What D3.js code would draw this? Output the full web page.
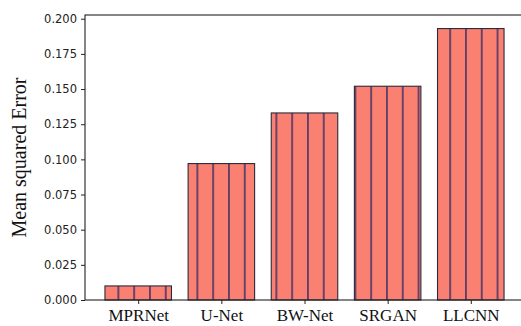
<!DOCTYPE html>
<html>
<head>
<meta charset="utf-8">
<script src="https://cdn.jsdelivr.net/npm/d3@7/dist/d3.min.js"></script>
<style>
  html, body { margin: 0; padding: 0; background: #fff; }
  svg { display: block; }
</style>
</head>
<body>
<svg id="chart" width="521" height="326"></svg>
<script>
// Model names and their mean squared error
const models = ["MPRNet", "U-Net", "BW-Net", "SRGAN", "LLCNN"];
const mseValues = [0.010, 0.097, 0.133, 0.152, 0.193];
const yTicks = [0.000, 0.025, 0.050, 0.075, 0.100, 0.125, 0.150, 0.175, 0.200];

const svg = d3.select("#chart");
const plot = { left: 85, top: 15, right: 524, bottom: 300 };
const barWidth = 0.8;

// Index-based x scale with a 5% margin around the bars
const xMin = -barWidth / 2, xMax = models.length - 1 + barWidth / 2;
const pad = (xMax - xMin) * 0.05;
const x = d3.scaleLinear().domain([xMin - pad, xMax + pad]).range([plot.left, plot.right]);
const y = d3.scaleLinear().domain([0, d3.max(mseValues) * 1.05]).range([plot.bottom, plot.top]);

// Vertical hatch pattern in screen space
const defs = svg.append("defs");
const pat = defs.append("pattern")
  .attr("id", "vhatch")
  .attr("patternUnits", "userSpaceOnUse")
  .attr("x", 6.8).attr("y", 0)
  .attr("width", 15.8).attr("height", 10);
pat.append("rect").attr("width", 15.8).attr("height", 10).attr("fill", "#fa8072");
pat.append("rect").attr("x", 0).attr("width", 1.9).attr("height", 10)
  .attr("fill", "#4a3566").attr("fill-opacity", 0.85);

// Bars
svg.append("g").selectAll("rect")
  .data(mseValues)
  .join("rect")
  .attr("x", (d, i) => x(i - barWidth / 2))
  .attr("width", (d, i) => x(i + barWidth / 2) - x(i - barWidth / 2))
  .attr("y", d => y(d))
  .attr("height", d => y(0) - y(d))
  .attr("fill", "url(#vhatch)")
  .attr("stroke", "#2a2a3a")
  .attr("stroke-width", 1.1);

// Frame
svg.append("rect")
  .attr("x", plot.left).attr("y", plot.top)
  .attr("width", plot.right - plot.left).attr("height", plot.bottom - plot.top)
  .attr("fill", "none").attr("stroke", "#222").attr("stroke-width", 1.1);

// Y axis
const yAxis = svg.append("g")
  .attr("transform", `translate(${plot.left},0)`)
  .call(d3.axisLeft(y).tickValues(yTicks).tickFormat(d3.format(".3f")).tickSize(4).tickPadding(4));
yAxis.select(".domain").remove();
yAxis.selectAll(".tick line").attr("stroke", "#222").attr("stroke-width", 1);
yAxis.selectAll(".tick text")
  .attr("fill", "#222")
  .style("font-family", "'DejaVu Sans', sans-serif")
  .style("font-size", "11.5px");

// X axis
const xAxis = svg.append("g")
  .attr("transform", `translate(0,${plot.bottom})`)
  .call(d3.axisBottom(x).tickValues(d3.range(models.length)).tickFormat(i => models[i]).tickSize(4).tickPadding(5));
xAxis.select(".domain").remove();
xAxis.selectAll(".tick line").attr("stroke", "#222").attr("stroke-width", 1);
xAxis.selectAll(".tick text")
  .attr("fill", "#111")
  .style("font-family", "'Liberation Serif', 'Times New Roman', serif")
  .style("font-size", "17px");

// Y axis title
svg.append("text")
  .attr("transform", `translate(26,${(plot.top + plot.bottom) / 2}) rotate(-90)`)
  .attr("text-anchor", "middle")
  .attr("fill", "#111")
  .style("font-family", "'Liberation Serif', 'Times New Roman', serif")
  .style("font-size", "20px")
  .text("Mean squared Error");
</script>
</body>
</html>
